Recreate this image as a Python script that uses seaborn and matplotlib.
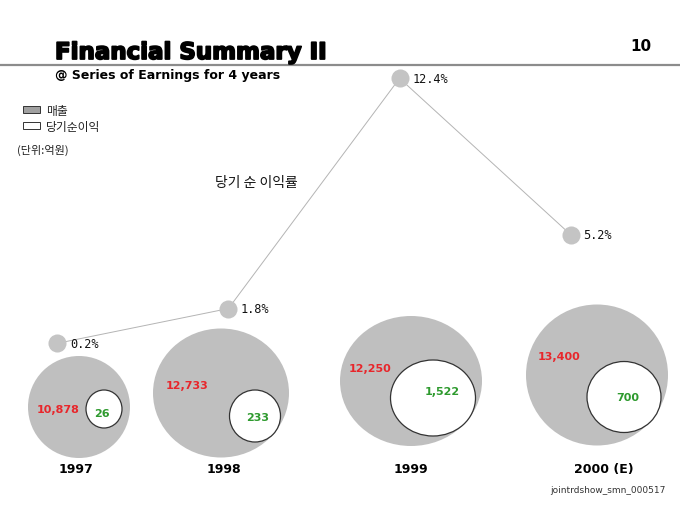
import numpy as np
import pandas as pd
import matplotlib
matplotlib.use('Agg')
import matplotlib.pyplot as plt
import matplotlib.patheffects as pe
from matplotlib.patches import Ellipse, Rectangle
import seaborn as sns

# data (unit: 억원)
years = ['1997', '1998', '1999', '2000 (E)']
sales = [10878, 12733, 12250, 13400]
net_income = [26, 233, 1522, 700]
profit_rate = [0.2, 1.8, 12.4, 5.2]

# layout of the bubbles in pixels: centre x, centre y, width, height
big_xy = [(79, 408), (221, 394), (411, 382), (597, 376)]
big_wh = [(102, 102), (136, 129), (142, 130), (142, 141)]
small_xy = [(104, 410), (255, 417), (433, 399), (624, 398)]
small_wh = [(36, 38), (51, 52), (85, 76), (74, 71)]
sales_lbl_xy = [(58, 410), (187, 386), (370, 369), (559, 357)]
income_lbl_xy = [(102, 414), (258, 418), (442, 392), (628, 398)]
year_x = [76, 224, 411, 604]

sns.set_theme(style='white')
plt.rcParams['font.family'] = ['DejaVu Sans', 'Noto Sans CJK KR']
KR = ['Noto Sans CJK KR', 'DejaVu Sans']

fig = plt.figure(figsize=(6.8, 5.1), dpi=100)
fig.patch.set_facecolor('white')
ax = fig.add_axes([0, 0, 1, 1])
ax.set_xlim(0, 680)
ax.set_ylim(510, 0)
ax.axis('off')

# header
ax.text(55, 60, 'Financial Summary II', fontsize=16.5, fontweight='heavy', color='black', va='baseline',
        path_effects=[pe.withStroke(linewidth=1.3, foreground='black')])
ax.plot([0, 680], [66, 66], color='#8c8c8c', lw=1.6)
ax.text(55, 79, '@ Series of Earnings for 4 years', fontsize=9, fontweight='bold', va='baseline', color='black')
ax.text(641, 51, '10', fontsize=11, fontweight='bold', ha='center', va='baseline', color='black')

# legend
ax.add_patch(Rectangle((23, 107), 17, 7, facecolor='#a0a0a0', edgecolor='#333333', lw=0.7))
ax.add_patch(Rectangle((23, 123), 17, 7, facecolor='white', edgecolor='#333333', lw=0.7))
ax.text(46, 111, '매출', family=KR, fontsize=8.5, va='center', color='#222222')
ax.text(46, 127, '당기순이익', family=KR, fontsize=8.5, va='center', color='#222222')
ax.text(17, 150, '(단위:억원)', family=KR, fontsize=8, va='center', color='#222222')
ax.text(215, 183, '당기 순 이익률', family=KR, fontsize=10, va='center', color='#111111')

# bubbles
for i in range(len(years)):
    ax.add_patch(Ellipse(big_xy[i], big_wh[i][0], big_wh[i][1], facecolor='#bfbfbf', edgecolor='none', zorder=2))
    ax.add_patch(Ellipse(small_xy[i], small_wh[i][0], small_wh[i][1], facecolor='white', edgecolor='#333333', lw=0.9, zorder=3))
    ax.text(*sales_lbl_xy[i], f'{sales[i]:,}', color='#e8262b', fontsize=8, fontweight='bold',
            ha='center', va='center', zorder=4)
    ax.text(*income_lbl_xy[i], f'{net_income[i]:,}', color='#2e9a2e', fontsize=8, fontweight='bold',
            ha='center', va='center', zorder=4)
    ax.text(year_x[i], 470, years[i], fontsize=9, fontweight='bold', ha='center', va='center', color='black')

ax.text(666, 491, 'jointrdshow_smn_000517', fontsize=6.5, ha='right', va='center', color='#333333')

# profit-rate line on its own axes, scaled so index/percent map onto the slide
x0, x1 = 57.3, 570.7
y_lo, y_hi = 344.3, 79.3
ax_line = fig.add_axes([x0 / 680, (510 - y_lo) / 510, (x1 - x0) / 680, (y_lo - y_hi) / 510])
ax_line.patch.set_alpha(0)
ax_line.axis('off')
ax_line.set_xlim(0, 3)
ax_line.set_ylim(min(profit_rate), max(profit_rate))
df = pd.DataFrame({'idx': np.arange(len(years)), 'rate': profit_rate})
sns.lineplot(data=df, x='idx', y='rate', ax=ax_line, color='#b4b4b4', lw=0.7,
             marker='o', markersize=13, markerfacecolor='#c4c4c4', markeredgewidth=0, clip_on=False)
for i, r in enumerate(profit_rate):
    ax_line.annotate(f'{r}%', (i, r), xytext=(9, 0), textcoords='offset points',
                     fontsize=8.6, family='DejaVu Sans Mono', va='center', color='#111111')

fig.savefig('out.png', dpi=100)
